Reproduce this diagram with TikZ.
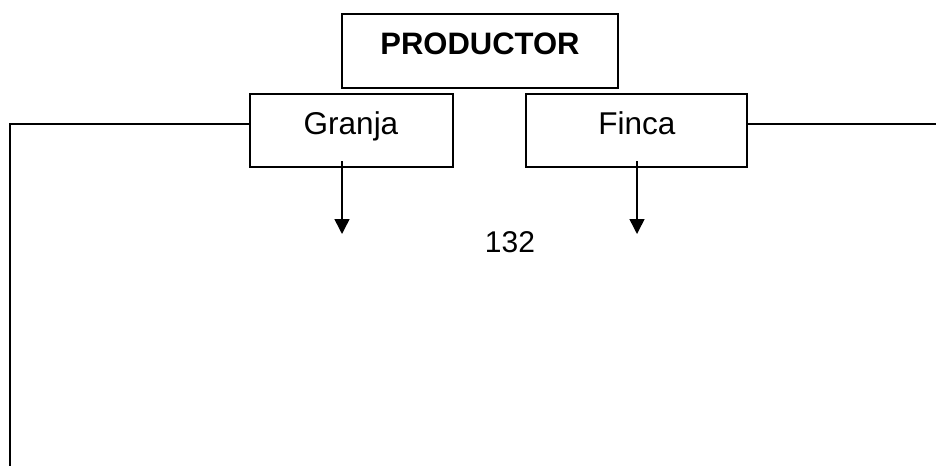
\documentclass[tikz,border=0pt]{standalone}
\usepackage{fontspec}
\setmainfont{Liberation Sans}
\usetikzlibrary{arrows.meta}
\begin{document}
\begin{tikzpicture}[x=1pt,y=-1pt,
  box/.style={draw,line width=1.5pt,minimum width=#1,inner sep=0pt,minimum height=73pt},
  wire/.style={line width=1.5pt},
  down/.style={line width=1.5pt,-{Triangle[length=15pt,width=15pt]}},
  lbl/.style={anchor=base,font=\fontsize{31.5}{35}\selectfont},
  big/.style={anchor=base,font=\fontsize{30}{34}\selectfont}]
\useasboundingbox (0,0) rectangle (936,466);
% boxes
\node[box=276pt,minimum height=74pt] (prod) at (480,51) {};
\node[box=203pt] (granja) at (351.5,130.5) {};
\node[box=221pt] (finca) at (636.5,130.5) {};
% texts
\node[big,font=\bfseries\fontsize{31}{35}\selectfont] (tprod) at (480,54) {PRODUCTOR};
\node[lbl] (tgranja) at (351,134) {Granja};
\node[lbl] (tfinca) at (637,134) {Finca};
\node[big] (num) at (510,252) {132};
% side connectors
\coordinate (gl) at (250,124);
\coordinate (lc) at (10,124);
\coordinate (lb) at (10,466);
\coordinate (fr) at (747,124);
\coordinate (re) at (936,124);
\draw[wire] (gl) -- (lc) -- (lb);
\draw[wire] (fr) -- (re);
% downward arrows
\coordinate (ga) at (342,161);
\coordinate (gb) at (342,234);
\coordinate (fa) at (637,161);
\coordinate (fb) at (637,234);
\draw[down] (ga) -- (gb);
\draw[down] (fa) -- (fb);
\end{tikzpicture}
\end{document}
